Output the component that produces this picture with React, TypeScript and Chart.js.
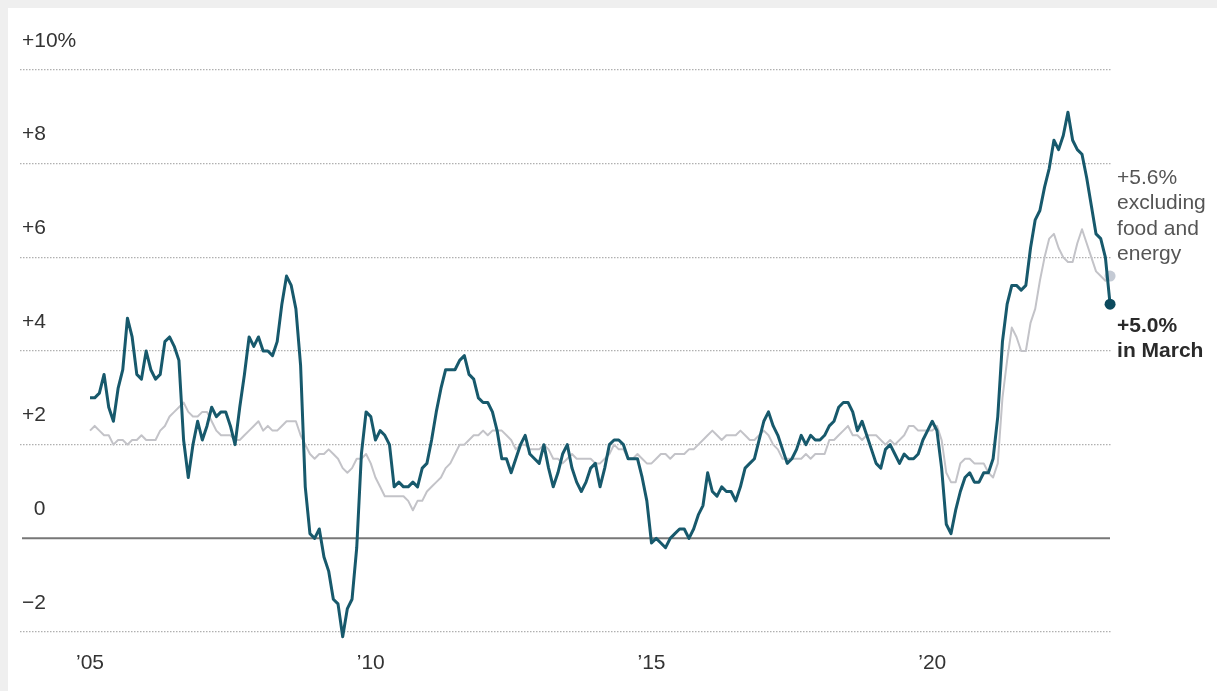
import React, { useEffect, useRef } from "react";
import { Chart, registerables } from "chart.js";

Chart.register(...registerables);

// Monthly data, January 2005 through March 2023 (year-over-year % change)
const startYear = 2005;

const headline = [
  // 2005
  3.0, 3.0, 3.1, 3.5, 2.8, 2.5, 3.2, 3.6, 4.7, 4.3, 3.5, 3.4,
  // 2006
  4.0, 3.6, 3.4, 3.5, 4.2, 4.3, 4.1, 3.8, 2.1, 1.3, 2.0, 2.5,
  // 2007
  2.1, 2.4, 2.8, 2.6, 2.7, 2.7, 2.4, 2.0, 2.8, 3.5, 4.3, 4.1,
  // 2008
  4.3, 4.0, 4.0, 3.9, 4.2, 5.0, 5.6, 5.4, 4.9, 3.7, 1.1, 0.1,
  // 2009
  0.0, 0.2, -0.4, -0.7, -1.3, -1.4, -2.1, -1.5, -1.3, -0.2, 1.8, 2.7,
  // 2010
  2.6, 2.1, 2.3, 2.2, 2.0, 1.1, 1.2, 1.1, 1.1, 1.2, 1.1, 1.5,
  // 2011
  1.6, 2.1, 2.7, 3.2, 3.6, 3.6, 3.6, 3.8, 3.9, 3.5, 3.4, 3.0,
  // 2012
  2.9, 2.9, 2.7, 2.3, 1.7, 1.7, 1.4, 1.7, 2.0, 2.2, 1.8, 1.7,
  // 2013
  1.6, 2.0, 1.5, 1.1, 1.4, 1.8, 2.0, 1.5, 1.2, 1.0, 1.2, 1.5,
  // 2014
  1.6, 1.1, 1.5, 2.0, 2.1, 2.1, 2.0, 1.7, 1.7, 1.7, 1.3, 0.8,
  // 2015
  -0.1, 0.0, -0.1, -0.2, 0.0, 0.1, 0.2, 0.2, 0.0, 0.2, 0.5, 0.7,
  // 2016
  1.4, 1.0, 0.9, 1.1, 1.0, 1.0, 0.8, 1.1, 1.5, 1.6, 1.7, 2.1,
  // 2017
  2.5, 2.7, 2.4, 2.2, 1.9, 1.6, 1.7, 1.9, 2.2, 2.0, 2.2, 2.1,
  // 2018
  2.1, 2.2, 2.4, 2.5, 2.8, 2.9, 2.9, 2.7, 2.3, 2.5, 2.2, 1.9,
  // 2019
  1.6, 1.5, 1.9, 2.0, 1.8, 1.6, 1.8, 1.7, 1.7, 1.8, 2.1, 2.3,
  // 2020
  2.5, 2.3, 1.5, 0.3, 0.1, 0.6, 1.0, 1.3, 1.4, 1.2, 1.2, 1.4,
  // 2021
  1.4, 1.7, 2.6, 4.2, 5.0, 5.4, 5.4, 5.3, 5.4, 6.2, 6.8, 7.0,
  // 2022
  7.5, 7.9, 8.5, 8.3, 8.6, 9.1, 8.5, 8.3, 8.2, 7.7, 7.1, 6.5,
  // 2023
  6.4, 6.0, 5.0,
];

const core = [
  // 2005
  2.3, 2.4, 2.3, 2.2, 2.2, 2.0, 2.1, 2.1, 2.0, 2.1, 2.1, 2.2,
  // 2006
  2.1, 2.1, 2.1, 2.3, 2.4, 2.6, 2.7, 2.8, 2.9, 2.7, 2.6, 2.6,
  // 2007
  2.7, 2.7, 2.5, 2.3, 2.2, 2.2, 2.2, 2.1, 2.1, 2.2, 2.3, 2.4,
  // 2008
  2.5, 2.3, 2.4, 2.3, 2.3, 2.4, 2.5, 2.5, 2.5, 2.2, 2.0, 1.8,
  // 2009
  1.7, 1.8, 1.8, 1.9, 1.8, 1.7, 1.5, 1.4, 1.5, 1.7, 1.7, 1.8,
  // 2010
  1.6, 1.3, 1.1, 0.9, 0.9, 0.9, 0.9, 0.9, 0.8, 0.6, 0.8, 0.8,
  // 2011
  1.0, 1.1, 1.2, 1.3, 1.5, 1.6, 1.8, 2.0, 2.0, 2.1, 2.2, 2.2,
  // 2012
  2.3, 2.2, 2.3, 2.3, 2.3, 2.2, 2.1, 1.9, 2.0, 2.0, 1.9, 1.9,
  // 2013
  1.9, 2.0, 1.9, 1.7, 1.7, 1.6, 1.7, 1.8, 1.7, 1.7, 1.7, 1.7,
  // 2014
  1.6, 1.6, 1.7, 1.8, 2.0, 1.9, 1.9, 1.7, 1.7, 1.8, 1.7, 1.6,
  // 2015
  1.6, 1.7, 1.8, 1.8, 1.7, 1.8, 1.8, 1.8, 1.9, 1.9, 2.0, 2.1,
  // 2016
  2.2, 2.3, 2.2, 2.1, 2.2, 2.2, 2.2, 2.3, 2.2, 2.1, 2.1, 2.2,
  // 2017
  2.3, 2.2, 2.0, 1.9, 1.7, 1.7, 1.7, 1.7, 1.7, 1.8, 1.7, 1.8,
  // 2018
  1.8, 1.8, 2.1, 2.1, 2.2, 2.3, 2.4, 2.2, 2.2, 2.1, 2.2, 2.2,
  // 2019
  2.2, 2.1, 2.0, 2.1, 2.0, 2.1, 2.2, 2.4, 2.4, 2.3, 2.3, 2.3,
  // 2020
  2.3, 2.4, 2.1, 1.4, 1.2, 1.2, 1.6, 1.7, 1.7, 1.6, 1.6, 1.6,
  // 2021
  1.4, 1.3, 1.6, 3.0, 3.8, 4.5, 4.3, 4.0, 4.0, 4.6, 4.9, 5.5,
  // 2022
  6.0, 6.4, 6.5, 6.2, 6.0, 5.9, 5.9, 6.3, 6.6, 6.3, 6.0, 5.7,
  // 2023
  5.6, 5.5, 5.6,
];

const xTickYears = [2005, 2010, 2015, 2020];
const xTickLabels = ["\u201905", "\u201910", "\u201915", "\u201920"];
const yTickValues = [-2, 0, 2, 4, 6, 8, 10];
const yTickLabels = ["\u22122", "\u20070", "+2", "+4", "+6", "+8", "+10%"];
const coreNote = ["+5.6%", "excluding", "food and", "energy"];
const headlineNote = ["+5.0%", "in March"];

const HEADLINE_COLOR = "#17596c";
const HEADLINE_DOT = "#0c4a5d";
const CORE_COLOR = "#c3c3c8";
const CORE_DOT = "#c4cad4";
const FONT = "'Liberation Sans', Arial, sans-serif";

export default function App() {
  const ref = useRef<HTMLCanvasElement | null>(null);

  useEffect(() => {
    document.body.style.margin = "8px 0 0 8px";
    document.body.style.background = "#efefef";
    document.body.style.overflow = "hidden";

    const toPoints = (arr: number[]) =>
      arr.map((v, i) => ({ x: startYear + i / 12, y: v }));
    const lastH = headline.length - 1;
    const lastC = core.length - 1;

    const notesPlugin = {
      id: "notes",
      beforeDatasetsDraw(chart: any) {
        const { ctx, chartArea, scales } = chart;
        const y0 = scales.y.getPixelForValue(0);
        ctx.save();
        ctx.strokeStyle = "#777777";
        ctx.lineWidth = 2;
        ctx.beginPath();
        ctx.moveTo(chartArea.left + 2, y0);
        ctx.lineTo(chartArea.right - 2, y0);
        ctx.stroke();
        ctx.restore();
      },
      afterDatasetsDraw(chart: any) {
        const { ctx } = chart;
        const hp = chart.getDatasetMeta(0).data[lastH];
        const cp = chart.getDatasetMeta(1).data[lastC];
        ctx.save();
        ctx.textAlign = "left";
        ctx.textBaseline = "middle";
        ctx.font = `21px ${FONT}`;
        ctx.fillStyle = "#555555";
        coreNote.forEach((t, k) => {
          ctx.fillText(t, cp.x + 7, cp.y - 98 + k * 25.5);
        });
        ctx.font = `bold 21px ${FONT}`;
        ctx.fillStyle = "#2a2a2a";
        headlineNote.forEach((t, k) => {
          ctx.fillText(t, hp.x + 7, hp.y + 22 + k * 25);
        });
        ctx.restore();
      },
    };

    const xMin = 2003.753;
    const xMax = 2023.201;

    const chart = new Chart(ref.current as HTMLCanvasElement, {
      type: "line",
      data: {
        datasets: [
          {
            label: "All items",
            data: toPoints(headline),
            borderColor: HEADLINE_COLOR,
            borderWidth: 3,
            tension: 0,
            clip: false as any,
            pointRadius: (c: any) => (c.dataIndex === lastH ? 5.5 : 0),
            pointBackgroundColor: HEADLINE_DOT,
            pointBorderWidth: 0,
            borderJoinStyle: "round",
          },
          {
            label: "Excluding food and energy",
            data: toPoints(core),
            borderColor: CORE_COLOR,
            borderWidth: 2,
            tension: 0,
            clip: false as any,
            pointRadius: (c: any) => (c.dataIndex === lastC ? 5.5 : 0),
            pointBackgroundColor: CORE_DOT,
            pointBorderWidth: 0,
            borderJoinStyle: "round",
          },
        ],
      },
      options: {
        responsive: false,
        animation: false,
        events: [],
        layout: { padding: { left: 12, top: 62, right: 105, bottom: 0 } },
        plugins: {
          legend: { display: false },
          tooltip: { enabled: false },
        },
        scales: {
          x: {
            type: "linear",
            min: xMin,
            max: xMax,
            grid: { display: false, drawTicks: false },
            border: { display: false },
            afterFit: (s: any) => {
              s.height = 59;
            },
            afterBuildTicks: (s: any) => {
              s.ticks = xTickYears.map((v) => ({ value: v }));
            },
            ticks: {
              autoSkip: false,
              maxRotation: 0,
              padding: 19,
              color: "#333333",
              font: { family: FONT, size: 21 },
              callback: (_v: any, i: number) => xTickLabels[i],
            },
          },
          y: {
            type: "linear",
            min: -2,
            max: 10,
            afterFit: (s: any) => {
              s.width = 0;
            },
            afterBuildTicks: (s: any) => {
              s.ticks = yTickValues.map((v) => ({ value: v }));
            },
            grid: {
              drawTicks: false,
              color: (c: any) =>
                c.tick && c.tick.value === 0 ? "rgba(0,0,0,0)" : "#b0b0b0",
              lineWidth: 1.2,
            },
            border: { display: false, dash: [1.5, 1.5] },
            ticks: {
              mirror: true,
              padding: 2,
              labelOffset: -29,
              color: "#333333",
              font: { family: FONT, size: 21 },
              callback: (_v: any, i: number) => yTickLabels[i],
            },
          },
        },
      },
      plugins: [notesPlugin],
    });

    return () => chart.destroy();
  }, []);

  return (
    <div style={{ width: 1209, height: 683, background: "#ffffff" }}>
      <canvas
        ref={ref}
        width={1209}
        height={683}
        style={{ display: "block", width: 1209, height: 683 }}
      />
    </div>
  );
}
